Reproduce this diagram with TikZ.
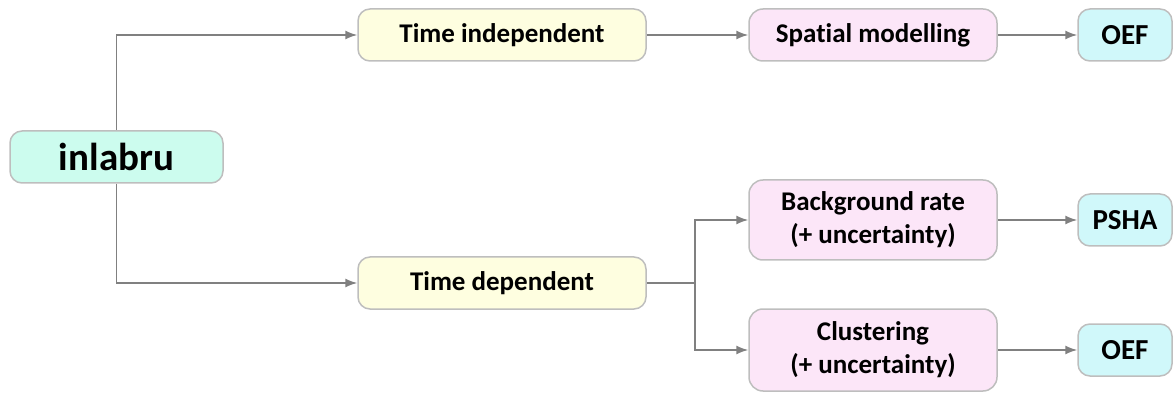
\documentclass[tikz,border=0pt]{standalone}
\usepackage{fontspec}
\setmainfont{Carlito}[Ligatures=NoCommon]
\usetikzlibrary{arrows.meta}
\definecolor{mintfill}{RGB}{204,252,238}
\definecolor{cyanfill}{RGB}{208,248,250}
\definecolor{yellowfill}{RGB}{254,254,224}
\definecolor{pinkfill}{RGB}{252,230,248}
\definecolor{boxline}{RGB}{190,190,190}
\definecolor{arrowline}{RGB}{128,128,128}
\tikzstyle{rootbox} = [
    rectangle,
    rounded corners=12pt,
    minimum width=213pt,
    minimum height=52pt,
    draw=boxline,
    line width=1.5pt,
    fill=mintfill,
    font=\fontsize{39}{44}\selectfont\bfseries
]
\tikzstyle{timebox} = [
    rectangle,
    rounded corners=12pt,
    minimum width=288pt,
    minimum height=52pt,
    draw=boxline,
    line width=1.5pt,
    fill=yellowfill,
    font=\fontsize{27}{32}\selectfont\bfseries
]
\tikzstyle{modelbox} = [
    rectangle,
    rounded corners=14pt,
    minimum width=248pt,
    minimum height=52pt,
    inner sep=0pt,
    draw=boxline,
    line width=1.5pt,
    fill=pinkfill,
    align=center,
    font=\fontsize{27}{33}\selectfont\bfseries
]
\tikzstyle{outbox} = [
    rectangle,
    rounded corners=12pt,
    minimum width=94pt,
    minimum height=52pt,
    draw=boxline,
    line width=1.5pt,
    fill=cyanfill,
    font=\fontsize{29}{34}\selectfont\bfseries
]
\tikzstyle{arrow} = [line width=1.5pt, draw=arrowline, -{Latex[length=12pt,width=9pt]}]
\tikzstyle{line} = [line width=1.5pt, draw=arrowline]

\begin{document}
\begin{tikzpicture}[x=1pt, y=1pt]
\useasboundingbox (0,0) rectangle (1173,394);

\node (inlabru) [rootbox] at (116.5,237) {inlabru};

\node (indep) [timebox] at (502,359) {Time independent};
\node (dep) [timebox] at (502,111) {Time dependent};

\node (spatial) [modelbox] at (873,359) {Spatial modelling};
\node (backgr) [modelbox, minimum height=80pt] at (873,174) {Background rate\\(+ uncertainty)};
\node (cluster) [modelbox, minimum height=82pt] at (873,44) {Clustering\\(+ uncertainty)};

\node (oeftop) [outbox] at (1125,359) {OEF};
\node (psha) [outbox] at (1125,174) {PSHA};
\node (oefbot) [outbox] at (1125,44) {OEF};

\coordinate (split) at (695,111);

\draw [arrow] (inlabru.north) |- (indep.west);
\draw [arrow] (inlabru.south) |- (dep.west);
\draw [arrow] (indep) -- (spatial);
\draw [arrow] (spatial) -- (oeftop);
\draw [line] (dep.east) -- (split);
\draw [arrow] (split) |- (backgr.west);
\draw [arrow] (split) |- (cluster.west);
\draw [arrow] (backgr) -- (psha);
\draw [arrow] (cluster) -- (oefbot);

\end{tikzpicture}
\end{document}
